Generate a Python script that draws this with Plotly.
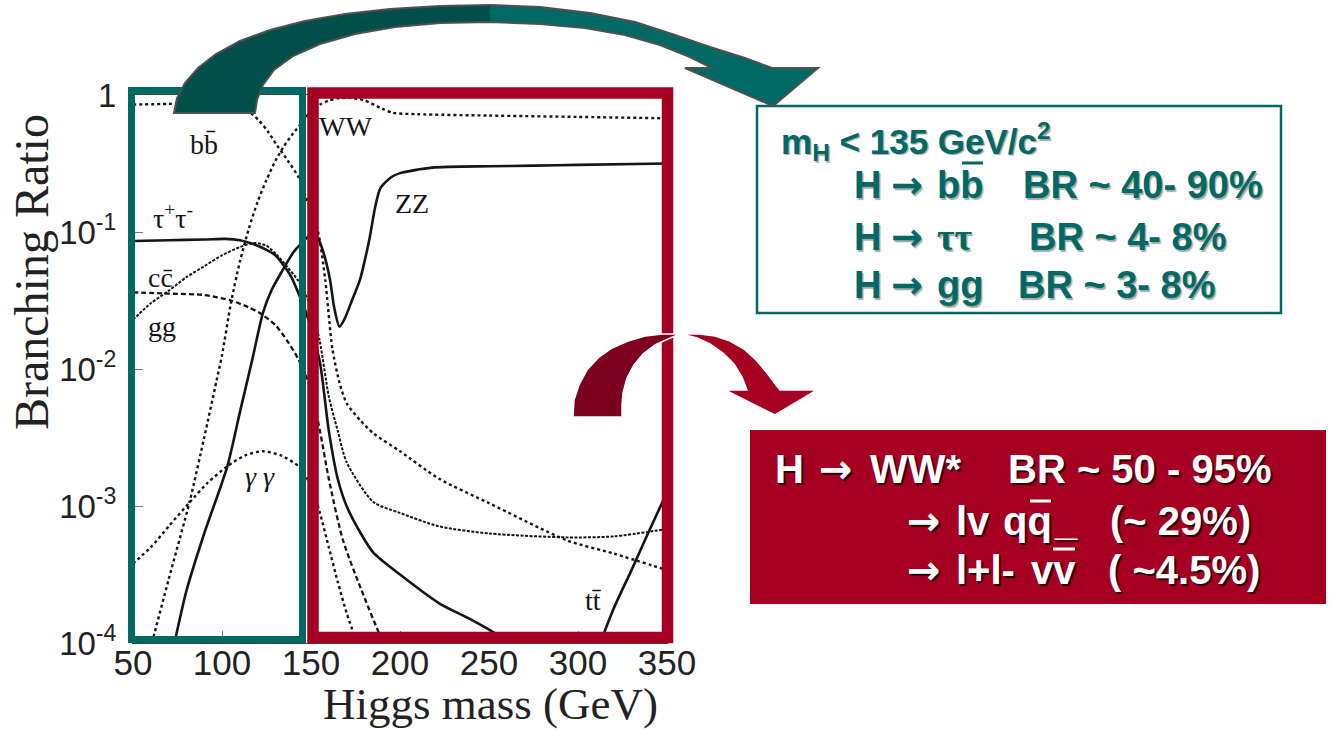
import plotly.graph_objects as go

W, H = 1334, 731

# ---- branching ratios vs Higgs mass (GeV) ----
mass_bb = [50, 70, 90, 100, 110, 115, 121, 126, 131, 137, 143, 150, 154, 158, 162, 166, 170, 178, 185, 200, 222, 250, 294, 320, 350]
br_bb = [0.851, 0.861, 0.871, 0.871, 0.813, 0.759, 0.646, 0.537, 0.427, 0.331, 0.251, 0.141, 0.100, 0.0447, 0.0141,
         0.00794, 0.00562, 0.00417, 0.00339, 0.00251, 0.00158, 0.00105, 5.6e-4, 4.5e-4, 3.4e-4]

mass_tautau = [50, 70, 90, 102, 110, 118, 125, 130, 135, 139, 143, 147, 150, 155, 160, 165, 170, 178, 185, 200, 222, 240, 256, 262]
br_tautau = [0.0859, 0.0871, 0.0881, 0.0891, 0.0871, 0.0813, 0.0741, 0.0676, 0.0562, 0.0468, 0.0355, 0.0263, 0.0200,
             0.0112, 0.00355, 0.00158, 0.00100, 6.3e-4, 4.57e-4, 3.16e-4, 1.95e-4, 1.48e-4, 1.12e-4, 9.5e-5]

mass_cc = [50, 70, 90, 105, 115, 121, 130, 137, 143, 150, 155, 160, 168, 178, 189, 195]
br_cc = [0.0363, 0.0355, 0.0347, 0.0316, 0.0282, 0.0257, 0.0209, 0.0158, 0.0117, 0.00708, 0.00355, 0.00158,
         5.6e-4, 2.5e-4, 1.12e-4, 7.9e-5]

mass_gg = [50, 60, 70, 80, 90, 100, 110, 118, 125, 131, 137, 143, 150, 155, 160, 165, 170, 185, 200, 222, 250, 294, 320, 350]
br_gg = [0.0229, 0.0302, 0.0372, 0.0468, 0.0562, 0.0676, 0.0776, 0.0832, 0.0794, 0.0676, 0.0550, 0.0437, 0.0282,
         0.0158, 0.0063, 0.00355, 0.00209, 0.00107, 8.9e-4, 7.1e-4, 6.3e-4, 5.9e-4, 6.0e-4, 6.8e-4]

mass_gamgam = [50, 60, 70, 82, 92, 103, 113, 123, 133, 143, 150, 155, 160, 165, 170, 174, 178]
br_gamgam = [3.8e-4, 5.0e-4, 7.1e-4, 1.07e-3, 1.48e-3, 1.95e-3, 2.34e-3, 2.51e-3, 2.34e-3, 1.95e-3, 1.41e-3,
             8.9e-4, 5.0e-4, 2.8e-4, 1.66e-4, 1.17e-4, 8.3e-5]

mass_WW = [59, 62, 70, 82, 90, 97, 100, 105, 110, 115, 120, 125, 130, 135, 140, 145, 150, 155, 160, 165, 172, 180,
           190, 196, 210, 250, 300, 350]
br_WW = [8.3e-5, 1.17e-4, 2.9e-4, 1.1e-3, 3.16e-3, 8.3e-3, 0.0126, 0.0302, 0.0603, 0.105, 0.166, 0.240, 0.331,
         0.427, 0.525, 0.631, 0.759, 0.851, 0.912, 0.944, 0.955, 0.912, 0.794, 0.741, 0.724, 0.708, 0.692, 0.676]

mass_ZZ = [70, 74, 80, 90, 103, 110, 117, 123, 128, 134, 140, 144, 150, 154, 157, 160.7, 163, 166, 169, 173, 177.5,
           180, 183, 186, 189, 195, 200, 218, 250, 275, 300, 350]
br_ZZ = [6.3e-5, 1.1e-4, 2.4e-4, 6.3e-4, 1.95e-3, 4.8e-3, 0.0117, 0.0257, 0.0380, 0.0525, 0.0708, 0.0813, 0.0955,
         0.0891, 0.0708, 0.0447, 0.0282, 0.0204, 0.0234, 0.0316, 0.0447, 0.0603, 0.0912, 0.151, 0.209, 0.251,
         0.269, 0.295, 0.302, 0.305, 0.309, 0.316]

mass_tt = [311, 320, 330, 340, 350]
br_tt = [8.9e-5, 1.78e-4, 3.39e-4, 6.6e-4, 1.26e-3]

x_ticks = [50, 100, 150, 200, 250, 300, 350]
y_ticks = [1e-4, 1e-3, 1e-2, 1e-1, 1]
y_tick_text = ["10<sup>-4</sup>", "10<sup>-3</sup>", "10<sup>-2</sup>", "10<sup>-1</sup>", "1"]

TEAL = "#006964"
TEAL_DARK = "#004F4B"
RED = "#A50021"
RED_DARK = "#7E001F"
INK = "#151515"
SANS = "Liberation Sans"
SERIF = "Liberation Serif"
ARROW_FONT = "DejaVu Sans"

fig = go.Figure()

curves = [
    (mass_bb, br_bb, dict(width=2.4, dash="dot")),
    (mass_tautau, br_tautau, dict(width=2.6)),
    (mass_cc, br_cc, dict(width=2.3, dash="5px,3px")),
    (mass_gg, br_gg, dict(width=2.0, dash="3px,1.5px")),
    (mass_gamgam, br_gamgam, dict(width=2.4, dash="dot")),
    (mass_WW, br_WW, dict(width=2.4, dash="dot")),
    (mass_ZZ, br_ZZ, dict(width=2.6)),
    (mass_tt, br_tt, dict(width=2.6)),
]
for m, b, style in curves:
    fig.add_trace(go.Scatter(
        x=m, y=b, mode="lines", hoverinfo="skip", showlegend=False,
        line=dict(color=INK, shape="spline", smoothing=0.7, **style),
    ))


def fx(x):
    return x / W


def fy(y):
    return 1 - y / H


def poly(points):
    return "M " + " L ".join(f"{fx(x):.5f},{fy(y):.5f}" for x, y in points) + " Z"


def rect(x0, y0, x1, y1, **kw):
    fig.add_shape(type="rect", xref="paper", yref="paper", layer="above",
                  x0=fx(x0), x1=fx(x1), y0=fy(y1), y1=fy(y0), **kw)


def seg(x0, y0, x1, y1, color, width):
    fig.add_shape(type="line", xref="paper", yref="paper", layer="above",
                  x0=fx(x0), x1=fx(x1), y0=fy(y0), y1=fy(y1),
                  line=dict(color=color, width=width))


def text(s, x, y, size, family=SANS, color=INK, xanchor="center", yanchor="middle", angle=0, **font_kw):
    fig.add_annotation(text=s, x=fx(x), y=fy(y), xref="paper", yref="paper", showarrow=False,
                       xanchor=xanchor, yanchor=yanchor, textangle=angle,
                       font=dict(family=family, size=size, color=color, **font_kw))


# highlight frames over the low- and high-mass regions
rect(131.5, 90.5, 302.5, 639.5, line=dict(color=TEAL, width=7))
rect(313, 93, 667.5, 637.5, line=dict(color=RED, width=11.5))

# summary boxes
rect(757, 106, 1281, 313, line=dict(color=TEAL, width=2.5), fillcolor="white")
rect(750, 430, 1326, 604, line=dict(width=0), fillcolor=RED)

# curved teal arrow
teal_outer = [(174, 113), (177, 98), (185, 83), (198, 68), (216, 54), (240, 41), (270, 30), (305, 21), (345, 14),
              (390, 9), (440, 6), (490, 5), (540, 7), (590, 13), (635, 22), (675, 35), (710, 47), (745, 58), (772, 68)]
teal_head = [(818, 68), (773, 106), (685, 68)]
teal_inner = [(712, 68), (690, 57), (660, 45), (625, 35), (585, 28), (540, 24), (490, 22), (440, 23), (395, 27),
              (355, 34), (320, 44), (293, 56), (274, 70), (263, 85), (257, 100), (255, 113)]
teal_all = teal_outer + teal_head + teal_inner
fig.add_shape(type="path", xref="paper", yref="paper", layer="above", path=poly(teal_all),
              fillcolor=TEAL, line=dict(width=0))
teal_left = teal_outer[:12] + teal_inner[6:]
fig.add_shape(type="path", xref="paper", yref="paper", layer="above", path=poly(teal_left),
              fillcolor=TEAL_DARK, line=dict(width=0))
fig.add_shape(type="path", xref="paper", yref="paper", layer="above", path=poly(teal_all),
              fillcolor="rgba(0,0,0,0)", line=dict(color="#505050", width=2))

# curved red arrow
red_left = [(573, 417), (574, 400), (579, 385), (587, 370), (598, 358), (612, 348), (628, 341), (645, 336),
            (662, 334), (680, 334), (668, 339), (655, 345), (643, 354), (634, 365), (627, 378), (623, 393),
            (622, 405), (622, 417)]
red_right = [(685, 334), (700, 334), (715, 336), (730, 341), (744, 349), (756, 360), (767, 373), (776, 385),
             (780, 390), (817, 390), (775, 415), (725, 390), (747, 390), (742, 377), (734, 364), (723, 353),
             (710, 344), (697, 338), (685, 335)]
fig.add_shape(type="path", xref="paper", yref="paper", layer="above", path=poly(red_left),
              fillcolor=RED_DARK, line=dict(color="white", width=1.5))
fig.add_shape(type="path", xref="paper", yref="paper", layer="above", path=poly(red_right),
              fillcolor=RED, line=dict(color="white", width=1.5))

# curve labels
text("bb\u0304", 204, 144, 28, SERIF)
text("\u03c4<sup>+</sup>\u03c4<sup>-</sup>", 173, 217, 28, SERIF)
text("cc\u0304", 160, 277, 28, SERIF)
text("gg", 162, 326, 28, SERIF)
text("<i>\u03b3 \u03b3</i>", 260, 476, 28, SERIF)
text("WW", 345, 127, 28, SERIF)
text("ZZ", 412, 203, 28, SERIF)
text("tt\u0304", 593, 600, 28, SERIF)

# axis titles
text("Branching Ratio", 31, 272, 48, SERIF, color="#222", angle=-90)
text("Higgs mass (GeV)", 490, 704, 45, SERIF, color="#222")

# teal summary text (low-mass decays)
teal_font = dict(color=TEAL, weight="bold", shadow="1.5px 1.5px 1px #a8a8a8")
text("m<sub>H</sub> &lt; 135 GeV/c<sup>2</sup>", 779, 141, 35, xanchor="left", **teal_font)
for yc, decay, br_text, br_left, fam in [
    (185, "bb", "BR ~ 40- 90%", 1021, SANS),
    (237, "\u03c4\u03c4", "BR ~ 4- 8%", 1027, SERIF),
    (285, "gg", "BR ~ 3- 8%", 1016, SANS),
]:
    text("H", 852, yc, 38, xanchor="left", **teal_font)
    text("\u2192", 889, yc, 38, family=ARROW_FONT, xanchor="left", **teal_font)
    text(decay, 935, yc, 38, family=fam, xanchor="left", **teal_font)
    text(br_text, br_left, yc, 38, xanchor="left", **teal_font)
seg(962, 163, 983, 163, TEAL, 3)

# red summary text (WW channel)
white_font = dict(color="white", weight="bold", shadow="2px 2px 1px #2a0008")
text("H", 773, 469, 40, xanchor="left", **white_font)
text("\u2192", 817, 469, 40, family=ARROW_FONT, xanchor="left", **white_font)
text("WW*", 868, 469, 40, xanchor="left", **white_font)
text("BR ~ 50 - 95%", 1006, 469, 40, xanchor="left", **white_font)

text("\u2192", 905, 521, 40, family=ARROW_FONT, xanchor="left", **white_font)
text("lv", 954, 521, 40, xanchor="left", **white_font)
text("qq", 1001, 521, 40, xanchor="left", **white_font)
text("_", 1052, 521, 40, xanchor="left", **white_font)
text("(~ 29%)", 1108, 521, 40, xanchor="left", **white_font)
seg(1030, 501, 1051, 501, "white", 3)

text("\u2192", 905, 570, 40, family=ARROW_FONT, xanchor="left", **white_font)
text("l+l-", 954, 570, 40, xanchor="left", **white_font)
text("vv", 1029, 570, 40, xanchor="left", **white_font)
text("( ~4.5%)", 1106, 570, 40, xanchor="left", **white_font)
seg(1053, 549, 1075, 549, "white", 3)

x_font = dict(family=SANS, size=35, color="#222")
y_font = dict(family=SANS, size=33, color="#222")
fig.update_layout(
    width=W, height=H, margin=dict(l=0, r=0, t=0, b=0),
    paper_bgcolor="white", plot_bgcolor="white", showlegend=False,
    xaxis=dict(domain=[133 / W, 667 / W], range=[50, 350], tickvals=x_ticks, ticks="inside", ticklen=12,
               tickcolor="#777", showline=True, linecolor="#444", linewidth=1, mirror=True, showgrid=False,
               zeroline=False, tickfont=x_font, automargin=False, ticklabelstandoff=-11),
    yaxis=dict(domain=[88 / H, 636 / H], type="log", range=[-4, 0], tickvals=y_ticks, ticktext=y_tick_text,
               ticks="inside", ticklen=10, tickcolor="#777", showline=True, linecolor="#444", linewidth=1,
               mirror=True, showgrid=False, zeroline=False, tickfont=y_font, automargin=False,
               ticklabelstandoff=9),
)

fig.write_html("out.html")
